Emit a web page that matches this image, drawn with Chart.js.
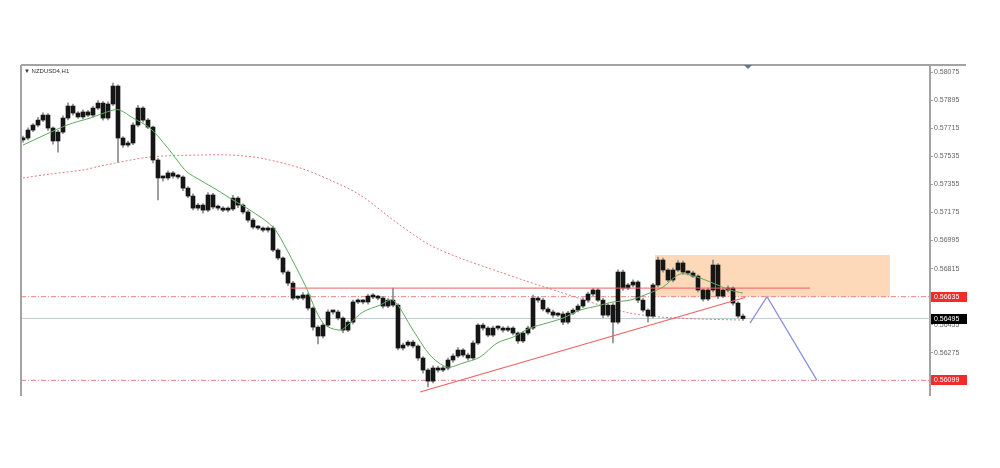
<!DOCTYPE html>
<html>
<head>
<meta charset="utf-8">
<script src="https://cdn.jsdelivr.net/npm/chart.js@4.4.0/dist/chart.umd.min.js"></script>
<style>
  html, body { margin: 0; background: #fff; }
  #wrap { width: 1000px; height: 468px; }
</style>
</head>
<body>
<div id="wrap"><canvas id="myChart"></canvas></div>
<script>
// NZDUSD H1 closes (one candle every ~5px)
const firstOpen = 0.57640;
const closes = [
  0.57652, 0.57703, 0.57735, 0.57767, 0.57799, 0.57716, 0.57633, 0.57690, 0.57780, 0.57857,
  0.57812, 0.57787, 0.57819, 0.57799, 0.57844, 0.57876, 0.57780, 0.57870, 0.57985, 0.57652,
  0.57607, 0.57620, 0.57735, 0.57844, 0.57767, 0.57722, 0.57511, 0.57396, 0.57396, 0.57428,
  0.57408, 0.57402, 0.57331, 0.57280, 0.57203, 0.57222, 0.57190, 0.57287, 0.57210, 0.57203,
  0.57190, 0.57197, 0.57267, 0.57222, 0.57178, 0.57126, 0.57081, 0.57075, 0.57062, 0.57075,
  0.56934, 0.56883, 0.56793, 0.56722, 0.56626, 0.56626, 0.56646, 0.56562, 0.56440, 0.56383,
  0.56453, 0.56537, 0.56537, 0.56498, 0.56421, 0.56472, 0.56601, 0.56607, 0.56601, 0.56639,
  0.56633, 0.56626, 0.56575, 0.56613, 0.56581, 0.56306, 0.56325, 0.56344, 0.56319, 0.56242,
  0.56165, 0.56094, 0.56178, 0.56165, 0.56178, 0.56229, 0.56255, 0.56293, 0.56261, 0.56242,
  0.56338, 0.56453, 0.56434, 0.56389, 0.56434, 0.56434, 0.56421, 0.56434, 0.56402, 0.56351,
  0.56402, 0.56434, 0.56626, 0.56613, 0.56556, 0.56537, 0.56517, 0.56524, 0.56472, 0.56530,
  0.56549, 0.56575, 0.56613, 0.56652, 0.56678, 0.56613, 0.56517, 0.56581, 0.56472, 0.56793,
  0.56690, 0.56710, 0.56729, 0.56613, 0.56549, 0.56511, 0.56710, 0.56870, 0.56806, 0.56742,
  0.56806, 0.56851, 0.56793, 0.56787, 0.56767, 0.56678, 0.56620, 0.56678, 0.56838, 0.56639,
  0.56678, 0.56690, 0.56594, 0.56511, 0.56495
];
// wick lengths beyond the body, in points (0.00001)
const wickUp = [
  12, 15, 10, 18, 14, 10, 8, 12, 15, 20, 12, 10, 14, 10, 12,
  16, 10, 14, 19, 8, 10, 12, 15, 18, 10, 12, 6, 10, 12, 14,
  10, 12, 8, 10, 14, 12, 10, 16, 10, 12, 10, 14, 18, 10, 8,
  10, 12, 10, 8, 10, 12, 10, 8, 10, 12, 14, 16, 10, 8, 10,
  12, 14, 10, 12, 8, 10, 12, 14, 10, 12, 16, 10, 12, 10, 77,
  8, 12, 10, 12, 8, 10, 10, 14, 12, 10, 12, 14, 16, 10, 12,
  14, 10, 12, 10, 12, 14, 10, 12, 10, 8, 10, 12, 19, 10, 12,
  10, 12, 10, 14, 12, 10, 12, 14, 12, 10, 10, 12, 8, 10, 14,
  12, 10, 14, 10, 12, 8, 10, 19, 12, 10, 14, 16, 12, 10, 12,
  10, 8, 12, 32, 10, 12, 14, 8, 10, 12
];
const wickDn = [
  14, 12, 10, 12, 10, 15, 20, 71, 10, 12, 14, 10, 12, 10, 12,
  10, 14, 12, 10, 154, 16, 12, 10, 12, 14, 10, 18, 141, 20, 12,
  14, 12, 16, 10, 12, 14, 20, 10, 12, 14, 10, 12, 10, 16, 12,
  14, 12, 10, 12, 14, 10, 12, 14, 16, 12, 10, 12, 14, 20, 50,
  12, 10, 14, 12, 16, 10, 12, 10, 12, 14, 10, 12, 14, 10, 12,
  12, 14, 10, 12, 16, 20, 38, 12, 14, 10, 12, 14, 10, 12, 14,
  12, 10, 14, 12, 10, 12, 14, 10, 12, 16, 10, 12, 10, 14, 12,
  12, 14, 10, 16, 12, 10, 12, 10, 14, 12, 10, 16, 12, 134, 12,
  14, 10, 12, 16, 12, 39, 10, 12, 14, 10, 12, 10, 14, 12, 10,
  12, 14, 10, 12, 16, 10, 12, 14, 12, 10
];

// green (fast) moving average, read at candle positions
const maFastIdx = [0, 8.8, 13.4, 18, 19.4, 22, 25.4, 28.8, 30.8, 32.8, 35.4, 38.8, 42, 45.4, 50, 52.8, 56.4, 60, 63.4, 65.4, 68, 71.4, 74, 78, 81.4, 84.8, 88, 91.4, 94.8, 98, 101.4, 104.8, 108, 111.4, 114.8, 118, 121.4, 124.8, 128, 131.4, 134.8, 138, 141.4, 144];
const maFastVal = [0.57607, 0.57735, 0.57780, 0.57831, 0.57831, 0.57780, 0.57716, 0.57594, 0.57511, 0.57434, 0.57383, 0.57319, 0.57255, 0.57190, 0.57081, 0.56934, 0.56710, 0.56466, 0.56421, 0.56466, 0.56537, 0.56581, 0.56613, 0.56421, 0.56261, 0.56184, 0.56210, 0.56248, 0.56338, 0.56376, 0.56434, 0.56466, 0.56498, 0.56549, 0.56575, 0.56601, 0.56613, 0.56652, 0.56697, 0.56780, 0.56761, 0.56722, 0.56678, 0.56658];
// red dotted (slow) moving average
const maSlowIdx = [0, 5.4, 12, 15.4, 25.4, 35.4, 41.4, 47.4, 55.4, 61.4, 67.4, 75.4, 81.4, 87.4, 95.4, 100, 107.4, 115.4, 121.4, 127.4, 135.4, 144.4];
const maSlowVal = [0.57396, 0.57421, 0.57447, 0.57472, 0.57530, 0.57543, 0.57543, 0.57524, 0.57460, 0.57383, 0.57287, 0.57094, 0.56966, 0.56883, 0.56793, 0.56742, 0.56665, 0.56581, 0.56530, 0.56505, 0.56492, 0.56485];

// drawn objects
const resistLevel = 0.56635;
const supportLevel = 0.56099;
const lastPrice = 0.56495;
const upperLine = 0.56690;
const upperLineIdx = [53.4, 157.4];
const zoneTop = 0.56902;
const zoneIdx = [126.4, 173.4];
const trendIdx = [79.4, 144.4];
const trendVal = [0.56024, 0.56630];
const projIdx = [145.4, 148.8, 158.8];
const projVal = [0.56466, 0.56635, 0.56099];

const yTicks = [0.58075, 0.57895, 0.57715, 0.57535, 0.57355, 0.57175, 0.56995, 0.56815, 0.56635, 0.56455, 0.56275, 0.56095];
const xMin = -0.4, xMax = 181.4;

const opens = closes.map((c, i) => i === 0 ? firstOpen : closes[i - 1]);
const bodies = closes.map((c, i) => ({ x: i, y: [opens[i], c] }));
const wicks = closes.map((c, i) => ({
  x: i,
  y: [Math.min(opens[i], c) - wickDn[i] / 1e5, Math.max(opens[i], c) + wickUp[i] / 1e5]
}));
const pts = (xs, ys) => xs.map((x, i) => ({ x: x, y: ys[i] }));
const hline = (v) => [{ x: xMin, y: v }, { x: xMax, y: v }];

const lineBase = { type: 'line', pointRadius: 0, borderWidth: 1, fill: false, tension: 0 };

const decor = {
  id: 'decor',
  afterDraw(chart) {
    const c = chart.ctx, a = chart.chartArea, y = chart.scales.y;
    c.save();
    // frame: top and left
    c.strokeStyle = '#a3a3a3';
    c.lineWidth = 2;
    c.beginPath();
    c.moveTo(a.left, a.top); c.lineTo(966, a.top);
    c.moveTo(a.left, a.top); c.lineTo(a.left, a.bottom + 1);
    c.stroke();
    // title
    c.fillStyle = '#333';
    c.font = '6px "Liberation Sans", Arial, sans-serif';
    c.textBaseline = 'middle';
    c.fillText('\u25BC NZDUSD4,H1', a.left + 3, a.top + 6);
    // small marker at top
    c.fillStyle = '#5f7590';
    c.beginPath();
    c.moveTo(744, a.top); c.lineTo(752, a.top); c.lineTo(748, a.top + 4);
    c.closePath(); c.fill();
    // price boxes on the axis
    const box = (v, col) => {
      const py = Math.round(y.getPixelForValue(v));
      c.fillStyle = col;
      c.fillRect(a.right + 1, py - 5, 36, 10);
      c.fillStyle = '#fff';
      c.font = '7px "Liberation Sans", Arial, sans-serif';
      c.fillText(v.toFixed(5), a.right + 4, py);
    };
    box(resistLevel, '#f52a2a');
    box(lastPrice, '#000');
    box(supportLevel, '#f52a2a');
    c.restore();
  }
};

new Chart(document.getElementById('myChart'), {
  type: 'bar',
  data: {
    datasets: [
      { ...lineBase, data: pts(zoneIdx, [zoneTop, zoneTop]), borderWidth: 0,
        fill: { value: resistLevel }, backgroundColor: '#fdd9b9', order: 20 },
      { ...lineBase, data: hline(lastPrice), borderColor: '#bfcdd6', order: 15 },
      { ...lineBase, data: hline(resistLevel), borderColor: '#ec7f7f', borderDash: [5, 2, 1, 2], order: 14 },
      { ...lineBase, data: hline(supportLevel), borderColor: '#ec7f7f', borderDash: [5, 2, 1, 2], order: 14 },
      { ...lineBase, data: pts(maSlowIdx, maSlowVal), borderColor: '#e77a7a', borderDash: [2, 2], tension: 0.3, order: 12 },
      { type: 'bar', data: wicks, backgroundColor: '#8c8c8c', barThickness: 1, grouped: false, order: 10 },
      { type: 'bar', data: bodies, backgroundColor: '#151515', barThickness: 4, minBarLength: 2, grouped: false, order: 9 },
      { ...lineBase, data: pts(maFastIdx, maFastVal), borderColor: '#5fa85f', tension: 0.3, order: 8 },
      { ...lineBase, data: pts(upperLineIdx, [upperLine, upperLine]), borderColor: '#f06060', order: 6 },
      { ...lineBase, data: pts(trendIdx, trendVal), borderColor: '#f06060', borderWidth: 1.2, order: 5 },
      { ...lineBase, data: pts(projIdx, projVal), borderColor: '#8a8fe0', borderWidth: 1.3, order: 4 }
    ]
  },
  options: {
    responsive: true,
    maintainAspectRatio: false,
    animation: false,
    events: [],
    layout: { padding: { left: 21, top: 65, right: 0, bottom: 73 } },
    plugins: { legend: { display: false }, tooltip: { enabled: false } },
    scales: {
      x: { type: 'linear', min: xMin, max: xMax, offset: false, display: false },
      y: {
        position: 'right',
        min: 0.56005,
        max: 0.58120,
        afterBuildTicks: (s) => { s.ticks = yTicks.map(v => ({ value: v })); },
        afterFit: (s) => { s.width = 70; },
        border: { display: true, color: '#a3a3a3', width: 2 },
        grid: { drawOnChartArea: false, tickLength: 3, color: '#a3a3a3' },
        ticks: {
          color: '#666',
          padding: 1,
          font: { size: 7, family: '"Liberation Sans", Arial, sans-serif' },
          callback: (v) => Number(v).toFixed(5)
        }
      }
    }
  },
  plugins: [decor]
});
</script>
</body>
</html>
